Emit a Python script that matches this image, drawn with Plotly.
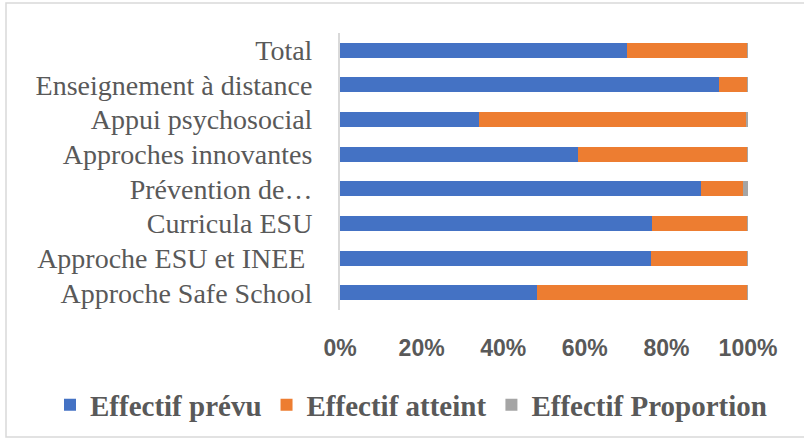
import plotly.graph_objects as go

categories = ["Total", "Enseignement à distance", "Appui psychosocial",
              "Approches innovantes", "Prévention de…", "Curricula ESU",
              "Approche ESU et INEE\u00a0", "Approche Safe School"]
effectif_prevu = [70.3, 92.9, 34.1, 58.3, 88.5, 76.5, 76.2, 48.3]
effectif_atteint = [29.6, 7.0, 65.3, 41.6, 10.3, 23.4, 23.7, 51.6]
effectif_proportion = [0.1, 0.1, 0.6, 0.1, 1.2, 0.1, 0.1, 0.1]
x_ticks = [0, 20, 40, 60, 80, 100]
x_tick_labels = ["0%", "20%", "40%", "60%", "80%", "100%"]

series = [
    ("Effectif prévu", effectif_prevu, "#4472C4"),
    ("Effectif atteint", effectif_atteint, "#ED7D31"),
    ("Effectif Proportion", effectif_proportion, "#A5A5A5"),
]

W, H = 804, 441
L, R, T, B = 340, 56, 33, 131
pw = W - L - R
ph = H - T - B

fig = go.Figure()
for name, vals, col in series:
    fig.add_trace(go.Bar(y=categories, x=vals, name=name, orientation="h",
                         marker=dict(color=col, line=dict(width=0)),
                         width=0.43))

gray = "#595959"
fig.update_layout(
    width=W, height=H,
    margin=dict(l=L, r=R, t=T, b=B, autoexpand=False),
    barmode="stack", barnorm="percent",
    plot_bgcolor="white", paper_bgcolor="white",
    xaxis=dict(range=[0, 100], tickmode="array", tickvals=x_ticks,
               ticktext=x_tick_labels, showgrid=False, zeroline=False,
               ticks="outside", ticklen=17, tickcolor="rgba(0,0,0,0)",
               tickfont=dict(family="Liberation Sans", size=23, color=gray,
                             weight="bold"),
               showline=False, fixedrange=True),
    yaxis=dict(autorange="reversed", showgrid=False, zeroline=False,
               showline=True, linecolor="#D9D9D9", linewidth=2,
               ticks="outside", ticklen=20, tickcolor="rgba(0,0,0,0)",
               tickfont=dict(family="Liberation Serif", size=28, color=gray),
               fixedrange=True),
    legend=dict(orientation="h", xref="paper", yref="paper",
                x=(50 - L) / pw, y=(H - B - 405) / ph,
                xanchor="left", yanchor="middle",
                font=dict(family="Liberation Serif", size=29, color=gray,
                          weight="bold"),
                itemwidth=30, tracegroupgap=0, traceorder="normal",
                bgcolor="rgba(0,0,0,0)"),
    showlegend=True,
)

# outer chart frame
fig.add_shape(type="rect", xref="paper", yref="paper",
              x0=(6 - L) / pw, x1=(W + 5 - L) / pw,
              y0=(H - 437 - B) / ph, y1=(H - 3 - B) / ph,
              line=dict(color="#D9D9D9", width=1.5), fillcolor="rgba(0,0,0,0)",
              layer="below")

fig.write_html("out.html")
